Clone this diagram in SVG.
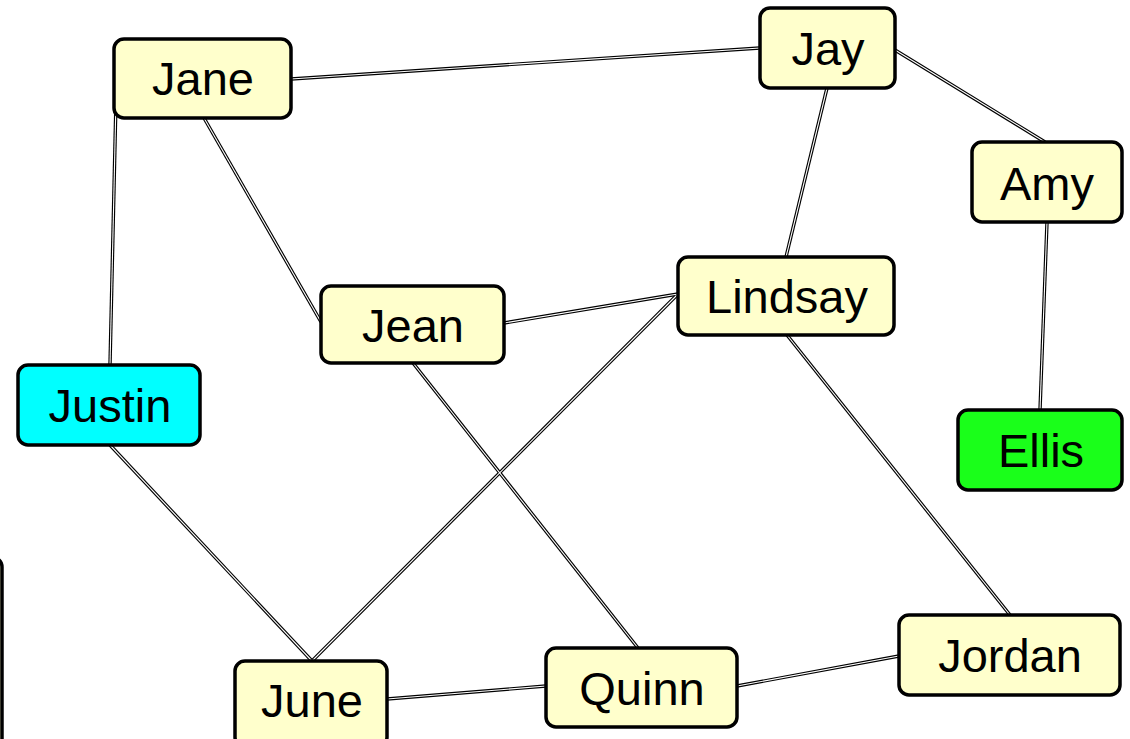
<svg xmlns="http://www.w3.org/2000/svg" width="1130" height="739" viewBox="0 0 1130 739">
  <style>
    .node rect { fill: #ffffcc; stroke: #000; stroke-width: 3.5; }
    .node text { font-family: "Liberation Sans", Arial, sans-serif; font-size: 47px; fill: #000; text-anchor: middle; }
    .edge-out { stroke: #000; stroke-width: 3.4; fill: none; }
    .edge-in { stroke: #fff; stroke-width: 1.1; fill: none; }
  </style>
  <defs>
    <!-- shared geometry of every connector: a dark casing with a light core -->
    <g id="edgePaths">
      <path d="M291,79 L760,48"/>
      <path d="M895,50 L1045,142"/>
      <path d="M827,88 L786,257"/>
      <path d="M1047,222 L1040,410"/>
      <path d="M116,100 L110,365"/>
      <path d="M204,118 L321,322"/>
      <path d="M504,323 L678,294"/>
      <path d="M678,294 L312,661"/>
      <path d="M413,363 L638,648"/>
      <path d="M787,335 L1010,615"/>
      <path d="M110,445 L312,661"/>
      <path d="M387,699 L546,686"/>
      <path d="M737,686 L899,656"/>
    </g>
  </defs>
  <rect width="1130" height="739" fill="#fff"/>

  <g id="connectors">
    <use href="#edgePaths" class="edge-out"/>
    <use href="#edgePaths" class="edge-in"/>
  </g>

  <!-- node cut off at the left border -->
  <g id="node-offscreen" class="node">
    <rect x="-120" y="557" width="122" height="260" rx="10"/>
  </g>

  <g id="node-jane" class="node">
    <rect x="114" y="39" width="177" height="79" rx="10"/>
    <text x="203" y="95">Jane</text>
  </g>
  <g id="node-jay" class="node">
    <rect x="760" y="8" width="135" height="80" rx="10"/>
    <text x="828" y="65">Jay</text>
  </g>
  <g id="node-amy" class="node">
    <rect x="972" y="142" width="150" height="80" rx="10"/>
    <text x="1047" y="200">Amy</text>
  </g>
  <g id="node-lindsay" class="node">
    <rect x="678" y="257" width="216" height="78" rx="10"/>
    <text x="787" y="313">Lindsay</text>
  </g>
  <g id="node-jean" class="node">
    <rect x="321" y="286" width="183" height="77" rx="10"/>
    <text x="413" y="342">Jean</text>
  </g>
  <g id="node-justin" class="node">
    <rect x="18" y="365" width="182" height="80" rx="10" style="fill:#00ffff"/>
    <text x="110" y="422">Justin</text>
  </g>
  <g id="node-ellis" class="node">
    <rect x="958" y="410" width="164" height="80" rx="10" style="fill:#1aff1a"/>
    <text x="1041" y="467">Ellis</text>
  </g>
  <g id="node-june" class="node">
    <rect x="235" y="661" width="152" height="86" rx="10"/>
    <text x="312" y="717">June</text>
  </g>
  <g id="node-quinn" class="node">
    <rect x="546" y="648" width="191" height="79" rx="10"/>
    <text x="642" y="705">Quinn</text>
  </g>
  <g id="node-jordan" class="node">
    <rect x="899" y="615" width="221" height="80" rx="10"/>
    <text x="1010" y="672">Jordan</text>
  </g>
</svg>
